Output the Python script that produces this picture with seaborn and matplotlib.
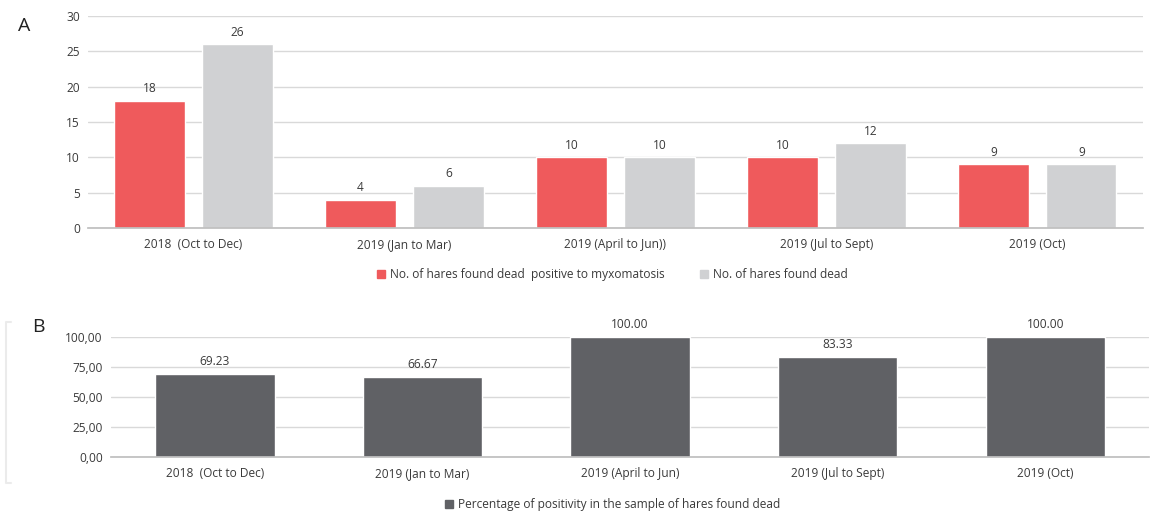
import matplotlib
matplotlib.use("Agg")
import matplotlib.pyplot as plt
import seaborn as sns
import pandas as pd
from matplotlib.patches import Patch

periods_a = ["2018  (Oct to Dec)", "2019 (Jan to Mar)", "2019 (April to Jun))",
             "2019 (Jul to Sept)", "2019 (Oct)"]
periods_b = ["2018  (Oct to Dec)", "2019 (Jan to Mar)", "2019 (April to Jun)",
             "2019 (Jul to Sept)", "2019 (Oct)"]
positive = [18, 4, 10, 10, 9]
found_dead = [26, 6, 10, 12, 9]
percent_pos = [69.23, 66.67, 100.00, 83.33, 100.00]

lab_pos = "No. of hares found dead  positive to myxomatosis"
lab_dead = "No. of hares found dead"
lab_pct = "Percentage of positivity in the sample of hares found dead"

RED = "#EF5A5C"
LGRAY = "#D0D1D3"
DGRAY = "#606165"
TXT = "#3A3A3A"
FS = 8.6

sns.set_theme(style="white")
plt.rcParams["font.family"] = ["Open Sans", "DejaVu Sans"]

df_a = pd.DataFrame({
    "period": periods_a * 2,
    "count": positive + found_dead,
    "series": [lab_pos] * 5 + [lab_dead] * 5,
})
df_b = pd.DataFrame({"period": periods_b, "pct": percent_pos})

fig = plt.figure(figsize=(11.59, 5.29), dpi=100)
ax_a = fig.add_axes([0.076, 0.569, 0.910, 0.401])
ax_b = fig.add_axes([0.0958, 0.136, 0.8956, 0.227])


def style_axis(ax, ticks, fmt):
    ax.set_yticks(ticks)
    ax.set_yticklabels([fmt(t) for t in ticks], fontsize=FS, color=TXT)
    ax.tick_params(axis="x", labelsize=FS, colors=TXT, length=0, pad=7)
    ax.tick_params(axis="y", length=0, pad=6)
    ax.yaxis.grid(True, color="#D9D9D9", lw=1)
    ax.set_axisbelow(True)
    for s in ["top", "right", "left"]:
        ax.spines[s].set_visible(False)
    ax.spines["bottom"].set_color("#BFBFBF")
    ax.set_xlabel("")
    ax.set_ylabel("")


# Panel A
sns.barplot(data=df_a, x="period", y="count", hue="series",
            palette=[RED, LGRAY], saturation=1, width=0.834, gap=0.2,
            ax=ax_a, legend=False)
ax_a.set_ylim(0, 30)
ax_a.set_xlim(-0.5, 4.5)
style_axis(ax_a, [0, 5, 10, 15, 20, 25, 30], lambda t: f"{t:d}")
for cont in ax_a.containers:
    ax_a.bar_label(cont, fmt="%d", padding=4, fontsize=FS, color=TXT)
ax_a.legend(handles=[Patch(color=RED, label=lab_pos), Patch(color=LGRAY, label=lab_dead)],
            loc="upper center", bbox_to_anchor=(0.497, -0.14), ncol=2, frameon=False,
            fontsize=FS, handlelength=0.7, handleheight=0.7, columnspacing=3.0,
            handletextpad=0.4, labelcolor=TXT)

# Panel B
sns.barplot(data=df_b, x="period", y="pct", color=DGRAY, saturation=1,
            width=0.575, ax=ax_b)
ax_b.set_ylim(0, 100)
ax_b.set_xlim(-0.5, 4.5)
style_axis(ax_b, [0, 25, 50, 75, 100], lambda t: f"{t:.2f}".replace(".", ","))
for cont in ax_b.containers:
    ax_b.bar_label(cont, fmt="%.2f", padding=4, fontsize=FS, color=TXT)
ax_b.legend(handles=[Patch(color=DGRAY, label=lab_pct)],
            loc="upper center", bbox_to_anchor=(0.483, -0.255), frameon=False,
            fontsize=FS, handlelength=0.7, handleheight=0.7, handletextpad=0.4,
            labelcolor=TXT)

fig.text(0.0155, 0.95, "A", fontsize=14, color="#222222", va="center")
fig.text(0.028, 0.382, "B", fontsize=14, color="#222222", va="center")

# faint frame bracket left of panel B
fig.add_artist(plt.Line2D([0.0095, 0.0052, 0.0052, 0.0095],
                          [0.391, 0.391, 0.087, 0.087],
                          color="#EBEBEB", lw=1.5, transform=fig.transFigure))

fig.savefig("out.png", dpi=100, facecolor="white")
